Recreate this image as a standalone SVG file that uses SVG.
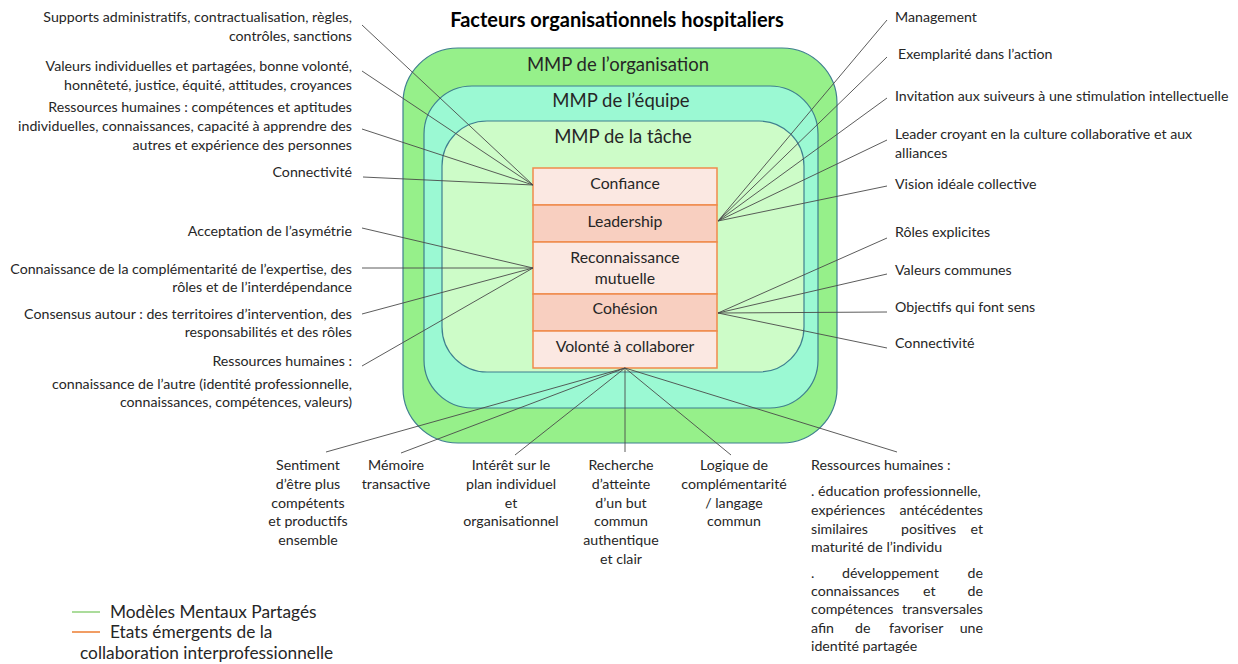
<svg xmlns="http://www.w3.org/2000/svg" width="1238" height="664" viewBox="0 0 1238 664">
<style>
text{font-family:Lato,"Liberation Sans",sans-serif;fill:#262626}
.t{font-size:14.2px}
.r{text-anchor:end}
.m{text-anchor:middle}
.h{font-size:18.5px;text-anchor:middle}
.b{font-size:15.8px;text-anchor:middle}
.title{font-size:20px;font-weight:bold;text-anchor:middle;fill:#000}
.lg{font-size:17.3px}
.ring{stroke:#3f7f8f;stroke-width:1.2}
.box{stroke:#f08a4b;stroke-width:1.5}
.c line{stroke:#4a4a4a;stroke-width:0.9}
</style>
<rect width="1238" height="664" fill="#fff"/>
<text class="title" x="617" y="27">Facteurs organisationnels hospitaliers</text>

<g id="mmp-organisation">
<rect class="ring" x="403" y="48" width="434" height="395" rx="55" fill="#96f08a"/>
<text class="h" x="618" y="71">MMP de l’organisation</text>
</g>
<g id="mmp-equipe">
<rect class="ring" x="424" y="86" width="394" height="322" rx="48" fill="#9bf9d3"/>
<text class="h" x="621" y="107">MMP de l’équipe</text>
</g>
<g id="mmp-tache">
<rect class="ring" x="442" y="121" width="362" height="251" rx="45" fill="#cdfcc8"/>
<text class="h" x="623" y="143">MMP de la tâche</text>
</g>

<g id="confiance"><rect class="box" x="533" y="168" width="184" height="37" fill="#fbe8e2"/><text class="b" x="625" y="189">Confiance</text></g>
<g id="leadership"><rect class="box" x="533" y="205" width="184" height="37" fill="#f8cfc0"/><text class="b" x="625" y="227">Leadership</text></g>
<g id="reconnaissance"><rect class="box" x="533" y="242" width="184" height="52" fill="#fbe8e2"/><text class="b" x="625" y="263">Reconnaissance</text><text class="b" x="625" y="284">mutuelle</text></g>
<g id="cohesion"><rect class="box" x="533" y="294" width="184" height="37" fill="#f8cfc0"/><text class="b" x="625" y="314">Cohésion</text></g>
<g id="volonte"><rect class="box" x="533" y="331" width="184" height="37" fill="#fbe8e2"/><text class="b" x="625" y="352">Volonté à collaborer</text></g>

<g id="connectors" class="c">
<line x1="362" y1="25" x2="533" y2="185"/>
<line x1="362" y1="71" x2="533" y2="185"/>
<line x1="362" y1="129" x2="533" y2="185"/>
<line x1="363" y1="177" x2="533" y2="185"/>
<line x1="362" y1="228" x2="533" y2="268"/>
<line x1="362" y1="268" x2="533" y2="268"/>
<line x1="362" y1="314" x2="533" y2="268"/>
<line x1="362" y1="366" x2="533" y2="268"/>
<line x1="887" y1="20" x2="718" y2="221"/>
<line x1="887" y1="57" x2="718" y2="221"/>
<line x1="887" y1="98" x2="718" y2="221"/>
<line x1="887" y1="140" x2="718" y2="221"/>
<line x1="887" y1="186" x2="718" y2="221"/>
<line x1="887" y1="238" x2="718" y2="313"/>
<line x1="887" y1="274" x2="718" y2="313"/>
<line x1="887" y1="312" x2="718" y2="313"/>
<line x1="887" y1="348" x2="718" y2="313"/>
<line x1="625" y1="368" x2="326" y2="452"/>
<line x1="625" y1="368" x2="401" y2="453"/>
<line x1="625" y1="368" x2="515" y2="455"/>
<line x1="625" y1="368" x2="625" y2="452"/>
<line x1="625" y1="368" x2="731" y2="455"/>
<line x1="625" y1="368" x2="897" y2="452"/>
</g>

<g id="left-labels">
<text class="t r" x="352" y="22">Supports administratifs, contractualisation, règles,</text>
<text class="t r" x="352" y="41">contrôles, sanctions</text>
<text class="t r" x="352" y="71">Valeurs individuelles et partagées, bonne volonté,</text>
<text class="t r" x="352" y="90">honnêteté, justice, équité, attitudes, croyances</text>
<text class="t r" x="352" y="112">Ressources humaines : compétences et aptitudes</text>
<text class="t r" x="352" y="131">individuelles, connaissances, capacité à apprendre des</text>
<text class="t r" x="352" y="150">autres et expérience des personnes</text>
<text class="t r" x="352" y="177">Connectivité</text>
<text class="t r" x="352" y="236">Acceptation de l’asymétrie</text>
<text class="t r" x="352" y="274">Connaissance de la complémentarité de l’expertise, des</text>
<text class="t r" x="352" y="292">rôles et de l’interdépendance</text>
<text class="t r" x="352" y="319">Consensus autour : des territoires d’intervention, des</text>
<text class="t r" x="352" y="337">responsabilités et des rôles</text>
<text class="t r" x="352" y="366">Ressources humaines :</text>
<text class="t r" x="352" y="389">connaissance de l’autre (identité professionnelle,</text>
<text class="t r" x="352" y="407">connaissances, compétences, valeurs)</text>
</g>

<g id="right-labels">
<text class="t" x="895" y="22">Management</text>
<text class="t" x="898" y="59">Exemplarité dans l’action</text>
<text class="t" x="895" y="101">Invitation aux suiveurs à une stimulation intellectuelle</text>
<text class="t" x="895" y="139">Leader croyant en la culture collaborative et aux</text>
<text class="t" x="895" y="158">alliances</text>
<text class="t" x="895" y="189">Vision idéale collective</text>
<text class="t" x="895" y="237">Rôles explicites</text>
<text class="t" x="895" y="275">Valeurs communes</text>
<text class="t" x="895" y="312">Objectifs qui font sens</text>
<text class="t" x="895" y="348">Connectivité</text>
</g>

<g id="bottom-labels">
<text class="t m" x="308" y="470">Sentiment</text>
<text class="t m" x="308" y="489">d’être plus</text>
<text class="t m" x="308" y="508">compétents</text>
<text class="t m" x="308" y="526">et productifs</text>
<text class="t m" x="308" y="545">ensemble</text>
<text class="t m" x="396" y="470">Mémoire</text>
<text class="t m" x="396" y="489">transactive</text>
<text class="t m" x="511" y="470">Intérêt sur le</text>
<text class="t m" x="511" y="489">plan individuel</text>
<text class="t m" x="511" y="508">et</text>
<text class="t m" x="511" y="526">organisationnel</text>
<text class="t m" x="621" y="470">Recherche</text>
<text class="t m" x="621" y="489">d’atteinte</text>
<text class="t m" x="621" y="508">d’un but</text>
<text class="t m" x="621" y="526">commun</text>
<text class="t m" x="621" y="545">authentique</text>
<text class="t m" x="621" y="564">et clair</text>
<text class="t m" x="734" y="470">Logique de</text>
<text class="t m" x="734" y="489">complémentarité</text>
<text class="t m" x="734" y="508">/ langage</text>
<text class="t m" x="734" y="526">commun</text>
</g>

<g id="rh-block">
<text class="t" x="811" y="470">Ressources humaines :</text>
<text class="t" x="811" y="496">. éducation professionnelle,</text>
<text class="t" x="811" y="515">expériences</text><text class="t r" x="983" y="515">antécédentes</text>
<text class="t" x="811" y="534">similaires</text><text class="t" x="901" y="534">positives</text><text class="t r" x="983" y="534">et</text>
<text class="t" x="811" y="552">maturité de l’individu</text>
<text class="t" x="811" y="578">.</text><text class="t" x="842" y="578">développement</text><text class="t r" x="983" y="578">de</text>
<text class="t" x="811" y="596">connaissances</text><text class="t" x="923" y="596">et</text><text class="t r" x="983" y="596">de</text>
<text class="t" x="811" y="614">compétences</text><text class="t r" x="983" y="614">transversales</text>
<text class="t" x="811" y="633">afin</text><text class="t" x="855" y="633">de</text><text class="t" x="889" y="633">favoriser</text><text class="t r" x="983" y="633">une</text>
<text class="t" x="811" y="651">identité partagée</text>
</g>

<g id="legend">
<line x1="72" y1="612" x2="100" y2="612" stroke="#8fd07a" stroke-width="1.5"/>
<text class="lg" x="110" y="618">Modèles Mentaux Partagés</text>
<line x1="72" y1="632" x2="100" y2="632" stroke="#ed7d31" stroke-width="1.5"/>
<text class="lg" x="110" y="638">Etats émergents de la</text>
<text class="lg" x="80" y="659">collaboration interprofessionnelle</text>
</g>
</svg>
